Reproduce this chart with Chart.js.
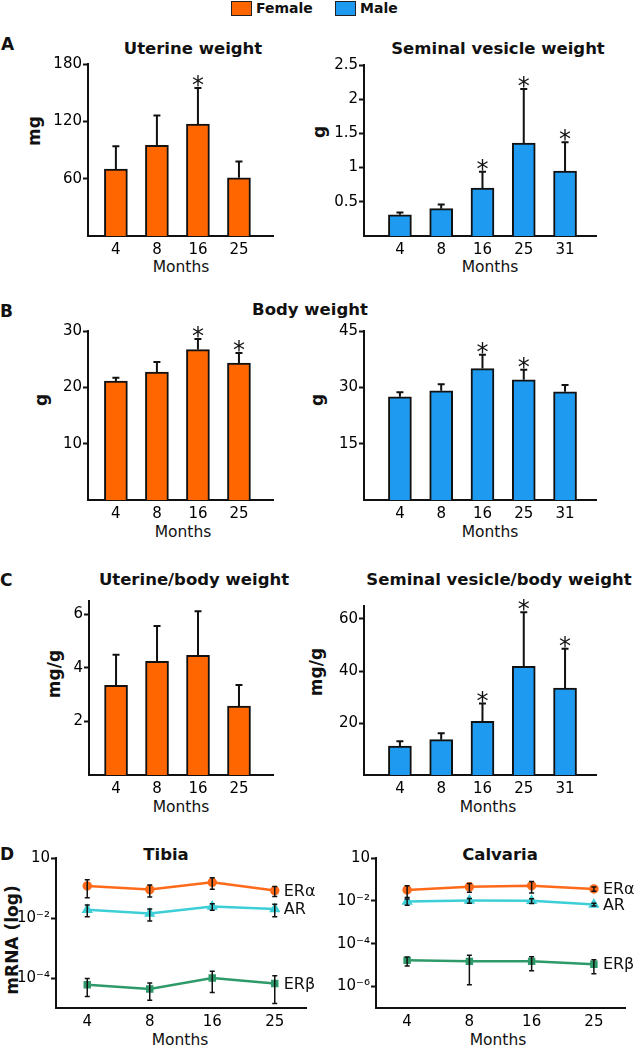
<!DOCTYPE html>
<html>
<head>
<meta charset="utf-8">
<script src="https://cdn.jsdelivr.net/npm/chart.js@4.4.1/dist/chart.umd.min.js"></script>
<style>
body { margin: 0; width: 640px; height: 1050px; background: #fff; position: relative; overflow: hidden; font-family: "DejaVu Sans", sans-serif; color: #111; }
canvas { position: absolute; }
.t { position: absolute; transform: translate(-50%, -50%); white-space: nowrap; line-height: 1; }
.title { font-weight: bold; font-size: 16.5px; }
.letter { position: absolute; transform: translateY(-50%); font-weight: bold; font-size: 17px; line-height: 1; }
.ytitle { position: absolute; transform: translate(-50%, -50%) rotate(-90deg); font-weight: bold; font-size: 17px; line-height: 1; white-space: nowrap; }
.months { font-size: 15.5px; }
.legend { position: absolute; top: 0; height: 16px; display: flex; align-items: center; font-weight: bold; font-size: 14px; }
.legend span.box { display: inline-block; width: 19px; height: 13px; border: 1.5px solid #222; margin-right: 4px; }
</style>
</head>
<body>

<!-- figure legend -->
<div class="legend" style="left:231px"><span class="box" style="background:#ff6600"></span>Female</div>
<div class="legend" style="left:335px"><span class="box" style="background:#1e9bf0"></span>Male</div>

<!-- panel letters -->
<div class="letter" style="left:1px;top:44px">A</div>
<div class="letter" style="left:0px;top:311px">B</div>
<div class="letter" style="left:0px;top:580px">C</div>
<div class="letter" style="left:0px;top:854px">D</div>

<!-- titles -->
<div class="t title" style="left:193px;top:49px">Uterine weight</div>
<div class="t title" style="left:498px;top:49px">Seminal vesicle weight</div>
<div class="t title" style="left:310px;top:310px">Body weight</div>
<div class="t title" style="left:194px;top:580px">Uterine/body weight</div>
<div class="t title" style="left:499px;top:580px">Seminal vesicle/body weight</div>
<div class="t title" style="left:166px;top:855px">Tibia</div>
<div class="t title" style="left:500px;top:855px">Calvaria</div>

<!-- axis titles -->
<div class="ytitle" style="left:34px;top:131px">mg</div>
<div class="ytitle" style="left:319px;top:132px">g</div>
<div class="ytitle" style="left:41px;top:400px">g</div>
<div class="ytitle" style="left:317px;top:400px">g</div>
<div class="ytitle" style="left:54px;top:674px">mg/g</div>
<div class="ytitle" style="left:316px;top:672px">mg/g</div>
<div class="ytitle" style="left:12px;top:940px">mRNA (log)</div>

<div class="t months" style="left:181px;top:268px">Months</div>
<div class="t months" style="left:490px;top:268px">Months</div>
<div class="t months" style="left:183px;top:533px">Months</div>
<div class="t months" style="left:490px;top:533px">Months</div>
<div class="t months" style="left:181px;top:808px">Months</div>
<div class="t months" style="left:488px;top:808px">Months</div>
<div class="t months" style="left:180px;top:1041px">Months</div>
<div class="t months" style="left:498px;top:1041px">Months</div>

<script>
// --- Data ---
const monthsF = ['4', '8', '16', '25'];
const monthsM = ['4', '8', '16', '25', '31'];

// A: organ weights
const uterineMean = [70, 95, 117, 61];
const uterineSd = [24, 31, 38, 17];
const uterineStar = [false, false, true, false];
const seminalMean = [0.31, 0.40, 0.70, 1.36, 0.95];
const seminalSd = [0.035, 0.06, 0.24, 0.79, 0.42];
const seminalStar = [false, false, true, true, true];

// B: body weight
const bodyFMean = [21.1, 22.7, 26.7, 24.3];
const bodyFSd = [0.6, 1.8, 1.9, 1.8];
const bodyFStar = [false, false, true, true];
const bodyMMean = [27.5, 29.1, 35.0, 32.0, 28.8];
const bodyMSd = [1.2, 1.7, 3.7, 2.7, 1.8];
const bodyMStar = [false, false, true, true, false];

// C: organ / body weight
const uterBodyMean = [3.35, 4.25, 4.47, 2.57];
const uterBodySd = [1.14, 1.32, 1.65, 0.79];
const uterBodyStar = [false, false, false, false];
const semBodyMean = [11.1, 13.6, 20.6, 41.8, 33.4];
const semBodySd = [1.9, 2.5, 6.9, 20.8, 15.2];
const semBodyStar = [false, false, true, true, true];

// D: mRNA (log)
const tibiaEra = [0.117, 0.0885, 0.155, 0.082];
const tibiaEraSd = [0.07, 0.038, 0.065, 0.03];
const tibiaAr = [0.019, 0.014, 0.024, 0.020];
const tibiaArSd = [0.008, 0.006, 0.006, 0.009];
const tibiaErb = [6.0e-5, 4.3e-5, 1.0e-4, 6.6e-5];
const tibiaErbSd = [3.6e-5, 2.5e-5, 6.7e-5, 5.2e-5];

const calvEra = [0.0325, 0.045, 0.051, 0.036];
const calvEraSd = [0.018, 0.02, 0.028, 0.008];
const calvAr = [0.0093, 0.0103, 0.010, 0.0067];
const calvArSd = [0.003, 0.0025, 0.0025, 0.001];
const calvErb = [1.67e-5, 1.5e-5, 1.5e-5, 1.1e-5];
const calvErbSd = [7.5e-6, 1.38e-5, 9.5e-6, 7e-6];

// tick labels
const uterineTicks = [60, 120, 180];
const seminalTicks = [0.5, 1, 1.5, 2, 2.5];
const bodyFTicks = [10, 20, 30];
const bodyMTicks = [15, 30, 45];
const uterBodyTicks = [2, 4, 6];
const semBodyTicks = [20, 40, 60];
const tibiaTicks = [1, 1e-2, 1e-4];
const calvTicks = [1, 1e-2, 1e-4, 1e-6];

// --- Colours ---
const FEMALE = '#ff6600';
const MALE = '#1e9bf0';
const ERA = '#ff6a1a';
const AR = '#3ccfd8';
const ERB = '#2e9a6a';

Chart.defaults.font.family = '"DejaVu Sans", sans-serif';
Chart.defaults.color = '#000';
Chart.defaults.animation = false;

// error bars, asterisks and end labels
const errBars = {
  id: 'errBars',
  afterDatasetsDraw(chart, args, opts) {
    const { ctx, scales: { x, y } } = chart;
    ctx.save();
    chart.data.datasets.forEach(ds => {
      if (!ds.sd) return;
      ds.data.forEach((pt, i) => {
        const px = x.getPixelForValue(pt.x);
        const top = y.getPixelForValue(pt.y + ds.sd[i]);
        const mid = y.getPixelForValue(pt.y);
        const bot = opts.both ? y.getPixelForValue(Math.max(pt.y - ds.sd[i], y.min)) : mid;
        ctx.strokeStyle = '#111';
        ctx.lineWidth = opts.width;
        ctx.beginPath();
        ctx.moveTo(px, bot);
        ctx.lineTo(px, top);
        ctx.moveTo(px - opts.cap, top);
        ctx.lineTo(px + opts.cap, top);
        if (opts.both) {
          ctx.moveTo(px - opts.cap, bot);
          ctx.lineTo(px + opts.cap, bot);
        }
        ctx.stroke();
        if (ds.stars && ds.stars[i]) {
          ctx.fillStyle = '#111';
          ctx.font = '24px "DejaVu Sans"';
          ctx.textAlign = 'center';
          ctx.textBaseline = 'alphabetic';
          ctx.fillText('*', px, top + 5);
        }
      });
      if (opts.endLabels) {
        const last = ds.data[ds.data.length - 1];
        ctx.fillStyle = '#111';
        ctx.font = '16px "DejaVu Sans"';
        ctx.textAlign = 'left';
        ctx.textBaseline = 'middle';
        ctx.fillText(ds.label, x.getPixelForValue(last.x) + 9, y.getPixelForValue(last.y) + 1);
      }
    });
    ctx.restore();
  }
};

function addCanvas(box) {
  const c = document.createElement('canvas');
  c.width = box.w;
  c.height = box.h;
  c.style.left = box.x + 'px';
  c.style.top = box.y + 'px';
  c.style.width = box.w + 'px';
  c.style.height = box.h + 'px';
  document.body.appendChild(c);
  return c.getContext('2d');
}

const axisLine = { display: true, color: '#111', width: 2 };
const tickFont = { size: 15 };

function yAxis(area, box, extra) {
  return Object.assign({
    grid: { display: true, drawOnChartArea: false, drawTicks: true, tickLength: 5, tickColor: '#111', tickWidth: 2 },
    border: axisLine,
    afterFit: s => { s.width = area.l - box.x; }
  }, extra);
}

function xAxis(area, box, labels, min, max) {
  return {
    type: 'linear',
    min: min,
    max: max,
    offset: false,
    grid: { display: false, drawTicks: false },
    border: axisLine,
    ticks: { font: tickFont, padding: 5, color: '#000', autoSkip: false, maxRotation: 0, callback: v => labels[v] },
    afterBuildTicks: s => { s.ticks = labels.map((_, i) => ({ value: i })); },
    afterFit: s => { s.height = box.y + box.h - area.b; }
  };
}

function barChart(box, area, labels, mean, sd, stars, color, yMax, yTicks, xMin, xMax) {
  new Chart(addCanvas(box), {
    type: 'bar',
    data: {
      datasets: [{
        data: mean.map((v, i) => ({ x: i, y: v })),
        sd: sd,
        stars: stars,
        backgroundColor: color,
        borderColor: '#111',
        borderWidth: 2,
        barThickness: 23
      }]
    },
    options: {
      responsive: false,
      layout: { padding: { top: area.t - box.y, right: box.x + box.w - area.r, left: 0, bottom: 0 } },
      plugins: { legend: { display: false }, tooltip: { enabled: false }, errBars: { both: false, cap: 3.5, width: 2 } },
      scales: {
        x: xAxis(area, box, labels, xMin, xMax),
        y: yAxis(area, box, {
          min: 0,
          max: yMax,
          afterBuildTicks: s => { s.ticks = yTicks.map(v => ({ value: v })); },
          ticks: { font: tickFont, padding: 1, color: '#000', callback: v => String(v) }
        })
      }
    },
    plugins: [errBars]
  });
}

const sup = { '-': '\u207b', '0': '\u2070', '1': '\u00b9', '2': '\u00b2', '3': '\u00b3', '4': '\u2074', '5': '\u2075', '6': '\u2076' };
function logLabel(v) {
  const e = Math.round(Math.log10(v));
  return e === 0 ? '10' : '10' + String(e).split('').map(c => sup[c]).join('');
}

function lineChart(box, area, labels, series, yMin, yTicks) {
  new Chart(addCanvas(box), {
    type: 'line',
    data: {
      datasets: series.map(s => ({
        label: s.label,
        data: s.mean.map((v, i) => ({ x: i, y: v })),
        sd: s.sd,
        borderColor: s.color,
        backgroundColor: s.color,
        pointBackgroundColor: s.color,
        pointBorderColor: s.color,
        pointStyle: s.marker,
        pointRadius: s.marker === 'triangle' ? 4 : 3.5,
        borderWidth: 2.5,
        tension: 0
      }))
    },
    options: {
      responsive: false,
      layout: { padding: { top: area.t - box.y, right: box.x + box.w - area.r, left: 0, bottom: 0 } },
      plugins: { legend: { display: false }, tooltip: { enabled: false }, errBars: { both: true, cap: 2.5, width: 1.5, endLabels: true } },
      scales: {
        x: xAxis(area, box, labels, -0.5, 3.5),
        y: yAxis(area, box, {
          type: 'logarithmic',
          min: yMin,
          max: 1,
          afterBuildTicks: s => { s.ticks = yTicks.map(v => ({ value: v })); },
          ticks: { font: tickFont, padding: 1, color: '#000', callback: v => logLabel(v) }
        })
      }
    },
    plugins: [errBars]
  });
}

// --- Panel A ---
barChart({ x: 40, y: 50, w: 260, h: 220 }, { l: 88, t: 64, r: 273, b: 236 },
  monthsF, uterineMean, uterineSd, uterineStar, FEMALE, 180, uterineTicks, -0.68, 3.83);
barChart({ x: 320, y: 50, w: 300, h: 220 }, { l: 364, t: 65, r: 596, b: 236 },
  monthsM, seminalMean, seminalSd, seminalStar, MALE, 2.5, seminalTicks, -0.87, 4.75);

// --- Panel B ---
barChart({ x: 40, y: 318, w: 260, h: 216 }, { l: 88, t: 331, r: 273, b: 500 },
  monthsF, bodyFMean, bodyFSd, bodyFStar, FEMALE, 30, bodyFTicks, -0.68, 3.83);
barChart({ x: 320, y: 318, w: 300, h: 216 }, { l: 364, t: 331, r: 596, b: 500 },
  monthsM, bodyMMean, bodyMSd, bodyMStar, MALE, 45, bodyMTicks, -0.87, 4.75);

// --- Panel C ---
barChart({ x: 40, y: 588, w: 260, h: 221 }, { l: 89, t: 601, r: 273, b: 775 },
  monthsF, uterBodyMean, uterBodySd, uterBodyStar, FEMALE, 6.5, uterBodyTicks, -0.66, 3.83);
barChart({ x: 320, y: 590, w: 300, h: 219 }, { l: 364, t: 606, r: 596, b: 775 },
  monthsM, semBodyMean, semBodySd, semBodyStar, MALE, 65, semBodyTicks, -0.87, 4.75);

// --- Panel D ---
lineChart({ x: 10, y: 845, w: 310, h: 193 }, { l: 56, t: 858, r: 306, b: 1008 }, monthsF, [
  { label: 'ER\u03b1', mean: tibiaEra, sd: tibiaEraSd, color: ERA, marker: 'circle' },
  { label: 'AR', mean: tibiaAr, sd: tibiaArSd, color: AR, marker: 'triangle' },
  { label: 'ER\u03b2', mean: tibiaErb, sd: tibiaErbSd, color: ERB, marker: 'rect' }
], 1e-5, tibiaTicks);
lineChart({ x: 322, y: 845, w: 318, h: 193 }, { l: 376, t: 858, r: 625, b: 1008 }, monthsF, [
  { label: 'ER\u03b1', mean: calvEra, sd: calvEraSd, color: ERA, marker: 'circle' },
  { label: 'AR', mean: calvAr, sd: calvArSd, color: AR, marker: 'triangle' },
  { label: 'ER\u03b2', mean: calvErb, sd: calvErbSd, color: ERB, marker: 'rect' }
], 1e-7, calvTicks);
</script>
</body>
</html>
